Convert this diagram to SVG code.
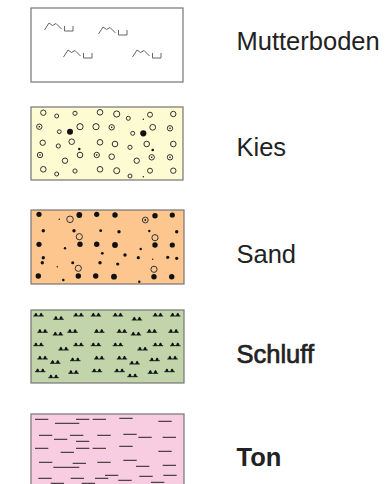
<svg xmlns="http://www.w3.org/2000/svg" xmlns:xlink="http://www.w3.org/1999/xlink" width="387" height="484" viewBox="0 0 387 484">
<style>
.box{stroke:#757575;stroke-width:1.2}
.lbl{font-family:"Liberation Sans",Arial,sans-serif;font-size:25.5px;fill:#222}
.semi{stroke:#222;stroke-width:0.7}
.bold{font-weight:bold}
.mu{fill:none;stroke:#555;stroke-width:0.9}
.oc{fill:none;stroke:#333;stroke-width:1}
.fd{fill:#111}
.dash{stroke:#222;stroke-width:1}
.sl{stroke:#222;stroke-width:1}
</style>
<defs>
<g id="musym">
<path class="mu" d="M0,7.5 L4.5,0.5 L8,3 L11.5,1 L17,6.5"/>
<path class="mu" d="M20,3.5 V8.5 H28.5 V3.5"/>
</g>
<g id="dc"><circle class="oc" r="2.7"/><circle class="fd" r="0.8"/></g>
<g id="ss">
<line class="sl" x1="0" y1="0" x2="10.5" y2="0"/>
<path class="fd" d="M0.9,0 Q1.3,-3 2.6,-3.2 Q3.9,-3 4.3,0 Z M6.1,0 Q6.5,-3 7.8,-3.2 Q9.1,-3 9.5,0 Z"/>
</g>
</defs>

<g id="mutterboden">
<rect class="box" x="31" y="8" width="152" height="74" fill="#ffffff"/>
<use xlink:href="#musym" x="44.5" y="22.5"/>
<use xlink:href="#musym" x="98.5" y="26.5"/>
<use xlink:href="#musym" x="63.5" y="49.5"/>
<use xlink:href="#musym" x="132.5" y="49.5"/>
<text class="lbl" x="236.5" y="50">Mutterboden</text>
</g>

<g id="kies">
<rect class="box" x="31" y="107" width="152" height="73" fill="#fdfbd2"/>
<circle class="oc" cx="43.3" cy="112.7" r="2.7"/>
<circle class="oc" cx="56.7" cy="116" r="2"/>
<circle class="oc" cx="75" cy="113.3" r="2.1"/>
<circle class="oc" cx="100" cy="112.3" r="2.8"/>
<circle class="oc" cx="116.7" cy="114" r="3.1"/>
<circle class="oc" cx="128.3" cy="118.3" r="2"/>
<circle class="fd" cx="143.3" cy="119.3" r="0.7"/>
<circle class="oc" cx="150" cy="114.7" r="2.5"/>
<circle class="oc" cx="173.3" cy="114" r="2.7"/>
<use xlink:href="#dc" x="39.3" y="126.7"/>
<circle class="oc" cx="59.3" cy="131.7" r="1.9"/>
<circle class="fd" cx="70" cy="131.7" r="3"/>
<circle class="oc" cx="80" cy="126.7" r="3.1"/>
<circle class="oc" cx="96" cy="126.7" r="3.1"/>
<use xlink:href="#dc" x="111.7" y="127.3"/>
<circle class="oc" cx="132.7" cy="133.3" r="2"/>
<circle class="fd" cx="143.3" cy="133.3" r="3.1"/>
<circle class="oc" cx="152.7" cy="127.3" r="2.9"/>
<use xlink:href="#dc" x="170" y="128.3"/>
<circle class="oc" cx="42.7" cy="142.7" r="2.7"/>
<circle class="oc" cx="58.3" cy="146" r="2.1"/>
<circle class="oc" cx="71.7" cy="141.7" r="2.8"/>
<circle class="fd" cx="79.3" cy="149" r="1.2"/>
<circle class="oc" cx="100" cy="142.3" r="2.8"/>
<circle class="oc" cx="115" cy="144" r="2.8"/>
<circle class="oc" cx="130" cy="147.3" r="2.1"/>
<circle class="oc" cx="146.7" cy="144" r="2.8"/>
<circle class="fd" cx="152.7" cy="150" r="1.3"/>
<circle class="oc" cx="173.3" cy="144" r="2.8"/>
<use xlink:href="#dc" x="40" y="155"/>
<circle class="oc" cx="65" cy="160.7" r="2.7"/>
<circle class="oc" cx="80" cy="155" r="2.8"/>
<use xlink:href="#dc" x="96.7" y="155"/>
<circle class="oc" cx="111.7" cy="156.7" r="2.8"/>
<circle class="oc" cx="136.7" cy="160.7" r="2.7"/>
<use xlink:href="#dc" x="151.7" y="157.3"/>
<use xlink:href="#dc" x="170" y="157.3"/>
<circle class="oc" cx="43.3" cy="169.3" r="2.8"/>
<circle class="oc" cx="56.7" cy="174" r="2"/>
<circle class="oc" cx="75" cy="171" r="2.1"/>
<circle class="oc" cx="100" cy="169.3" r="2.8"/>
<circle class="oc" cx="116.7" cy="170.7" r="3"/>
<circle class="oc" cx="130" cy="176" r="2"/>
<circle class="fd" cx="143.3" cy="176.7" r="0.7"/>
<circle class="oc" cx="150" cy="170.7" r="2.5"/>
<circle class="oc" cx="173.3" cy="170.7" r="2.7"/>
<text class="lbl" x="236.5" y="156">Kies</text>
</g>

<g id="sand">
<rect class="box" x="31" y="210" width="153" height="74" fill="#fdc68f"/>
<circle class="fd" cx="39" cy="214.3" r="2.6"/>
<circle class="fd" cx="59.3" cy="219.3" r="0.7"/>
<circle class="oc" cx="70" cy="219.3" r="3.3"/>
<circle class="fd" cx="79.3" cy="215" r="2.9"/>
<circle class="fd" cx="96.7" cy="214.3" r="2.6"/>
<circle class="fd" cx="115" cy="215" r="2.7"/>
<circle class="oc" cx="145.3" cy="220" r="2.9"/>
<circle class="fd" cx="145.3" cy="220" r="0.9"/>
<circle class="fd" cx="155" cy="215.7" r="2.7"/>
<circle class="fd" cx="172.3" cy="215" r="2.6"/>
<circle class="fd" cx="43.3" cy="230.7" r="1.7"/>
<circle class="fd" cx="74" cy="230.7" r="1.7"/>
<circle class="oc" cx="79.3" cy="236.7" r="3.1"/>
<circle class="fd" cx="100.7" cy="230.7" r="1.4"/>
<circle class="fd" cx="119" cy="231.7" r="1.7"/>
<circle class="fd" cx="149.3" cy="231" r="1.2"/>
<circle class="oc" cx="155" cy="237.7" r="3.1"/>
<circle class="fd" cx="176.7" cy="231.7" r="1.7"/>
<circle class="fd" cx="39" cy="244.3" r="2.6"/>
<circle class="fd" cx="65" cy="248.3" r="1.2"/>
<circle class="fd" cx="80" cy="244.3" r="2.7"/>
<circle class="fd" cx="96.7" cy="244.3" r="2.7"/>
<circle class="fd" cx="115" cy="245" r="2.9"/>
<circle class="fd" cx="140.7" cy="249" r="1.2"/>
<circle class="fd" cx="155" cy="245" r="2.7"/>
<circle class="fd" cx="172.3" cy="245" r="2.6"/>
<circle class="fd" cx="102.3" cy="253.3" r="1.4"/>
<circle class="fd" cx="125" cy="255" r="1.7"/>
<circle class="fd" cx="43.3" cy="257.7" r="1.7"/>
<circle class="fd" cx="138.3" cy="257.7" r="1.6"/>
<circle class="fd" cx="152.7" cy="259.3" r="0.7"/>
<circle class="fd" cx="167.7" cy="257.3" r="1.6"/>
<circle class="fd" cx="176.7" cy="258.3" r="1.6"/>
<circle class="fd" cx="42.3" cy="262.7" r="1.7"/>
<circle class="fd" cx="72.7" cy="262.7" r="1.5"/>
<circle class="fd" cx="100" cy="262.7" r="1.7"/>
<circle class="fd" cx="117.7" cy="264" r="1.6"/>
<circle class="fd" cx="57.3" cy="266.7" r="0.7"/>
<circle class="oc" cx="78.3" cy="268.3" r="3.1"/>
<circle class="oc" cx="154" cy="269.3" r="3.1"/>
<circle class="fd" cx="38.3" cy="276" r="2.7"/>
<circle class="fd" cx="63.3" cy="280" r="1.3"/>
<circle class="fd" cx="78.3" cy="276" r="2.7"/>
<circle class="fd" cx="95.7" cy="276" r="2.7"/>
<circle class="fd" cx="114" cy="276.7" r="2.9"/>
<circle class="fd" cx="139.3" cy="281.7" r="1.2"/>
<circle class="fd" cx="154" cy="276.7" r="2.7"/>
<circle class="fd" cx="171.7" cy="276.7" r="2.7"/>
<text class="lbl" x="236.5" y="263">Sand</text>
</g>

<g id="schluff">
<rect class="box" x="31" y="310" width="153" height="73" fill="#c2d5aa"/>
<use xlink:href="#ss" x="33.3" y="316"/>
<use xlink:href="#ss" x="53.3" y="319.3"/>
<use xlink:href="#ss" x="73.3" y="316"/>
<use xlink:href="#ss" x="90.7" y="316"/>
<use xlink:href="#ss" x="112.7" y="316"/>
<use xlink:href="#ss" x="131.7" y="320"/>
<use xlink:href="#ss" x="152.7" y="316"/>
<use xlink:href="#ss" x="170" y="316"/>
<use xlink:href="#ss" x="37.3" y="332.3"/>
<use xlink:href="#ss" x="52.7" y="335"/>
<use xlink:href="#ss" x="67.3" y="332.3"/>
<use xlink:href="#ss" x="94" y="332.3"/>
<use xlink:href="#ss" x="116.7" y="332.3"/>
<use xlink:href="#ss" x="130.7" y="335"/>
<use xlink:href="#ss" x="146.7" y="332.3"/>
<use xlink:href="#ss" x="168.3" y="332.3"/>
<use xlink:href="#ss" x="33.3" y="345.7"/>
<use xlink:href="#ss" x="58.3" y="350"/>
<use xlink:href="#ss" x="73.3" y="345.7"/>
<use xlink:href="#ss" x="90.7" y="345.7"/>
<use xlink:href="#ss" x="112.7" y="345.7"/>
<use xlink:href="#ss" x="137.3" y="350"/>
<use xlink:href="#ss" x="152.7" y="345.7"/>
<use xlink:href="#ss" x="170" y="345.7"/>
<use xlink:href="#ss" x="37.3" y="359"/>
<use xlink:href="#ss" x="50" y="363.3"/>
<use xlink:href="#ss" x="70" y="360.7"/>
<use xlink:href="#ss" x="94" y="359"/>
<use xlink:href="#ss" x="116.7" y="359"/>
<use xlink:href="#ss" x="129.3" y="364"/>
<use xlink:href="#ss" x="149.3" y="360.7"/>
<use xlink:href="#ss" x="167.3" y="359"/>
<use xlink:href="#ss" x="35" y="371.7"/>
<use xlink:href="#ss" x="48.3" y="377.7"/>
<use xlink:href="#ss" x="68.3" y="373.3"/>
<use xlink:href="#ss" x="91.7" y="371.7"/>
<use xlink:href="#ss" x="114.3" y="371.7"/>
<use xlink:href="#ss" x="127.3" y="376.7"/>
<use xlink:href="#ss" x="147.7" y="373.3"/>
<use xlink:href="#ss" x="164.3" y="371.7"/>
<text class="lbl semi" x="236.5" y="363">Schluff</text>
</g>

<g id="ton">
<rect class="box" x="31" y="414" width="153" height="80" fill="#f8cde1"/>
<g class="dash">
<line x1="35" y1="419.3" x2="48.3" y2="419.3"/>
<line x1="55" y1="423.3" x2="79.3" y2="423.3"/>
<line x1="76" y1="419.3" x2="89.3" y2="419.3"/>
<line x1="92.7" y1="419.3" x2="106" y2="419.3"/>
<line x1="119.3" y1="418.3" x2="132.7" y2="418.3"/>
<line x1="158.3" y1="421.3" x2="171.7" y2="421.3"/>
<line x1="39" y1="435.3" x2="52.3" y2="435.3"/>
<line x1="54" y1="439.3" x2="67.3" y2="439.3"/>
<line x1="70" y1="435.3" x2="83.3" y2="435.3"/>
<line x1="76" y1="441.3" x2="89.3" y2="441.3"/>
<line x1="97.3" y1="435.3" x2="110.7" y2="435.3"/>
<line x1="123.3" y1="434.3" x2="136.7" y2="434.3"/>
<line x1="138.3" y1="437.3" x2="151.7" y2="437.3"/>
<line x1="162.7" y1="437.3" x2="176" y2="437.3"/>
<line x1="35" y1="448.3" x2="48.3" y2="448.3"/>
<line x1="60.7" y1="452.3" x2="74" y2="452.3"/>
<line x1="76" y1="448.3" x2="89.3" y2="448.3"/>
<line x1="92.7" y1="448.3" x2="106" y2="448.3"/>
<line x1="119.3" y1="446.3" x2="132.7" y2="446.3"/>
<line x1="158.3" y1="451.3" x2="171.7" y2="451.3"/>
<line x1="39" y1="462.3" x2="52.3" y2="462.3"/>
<line x1="53.3" y1="467.3" x2="79.3" y2="467.3"/>
<line x1="72.7" y1="463.3" x2="86" y2="463.3"/>
<line x1="97.3" y1="462.3" x2="110.7" y2="462.3"/>
<line x1="123.3" y1="460.3" x2="136.7" y2="460.3"/>
<line x1="136" y1="466.3" x2="149.3" y2="466.3"/>
<line x1="162.7" y1="465.3" x2="176" y2="465.3"/>
<line x1="38.3" y1="478.3" x2="51.7" y2="478.3"/>
<line x1="50.7" y1="483.3" x2="64" y2="483.3"/>
<line x1="70.7" y1="478.3" x2="84" y2="478.3"/>
<line x1="81.7" y1="483.3" x2="95" y2="483.3"/>
<line x1="95" y1="478.3" x2="108.3" y2="478.3"/>
<line x1="105" y1="475.3" x2="118.3" y2="475.3"/>
<line x1="118.3" y1="480.3" x2="131.7" y2="480.3"/>
<line x1="139.3" y1="476.3" x2="152.7" y2="476.3"/>
<line x1="151" y1="482.3" x2="164.3" y2="482.3"/>
<line x1="163.3" y1="475.3" x2="176.7" y2="475.3"/>
</g>
<text class="lbl bold" x="236.5" y="466">Ton</text>
</g>

<g id="connectors"/>
</svg>
